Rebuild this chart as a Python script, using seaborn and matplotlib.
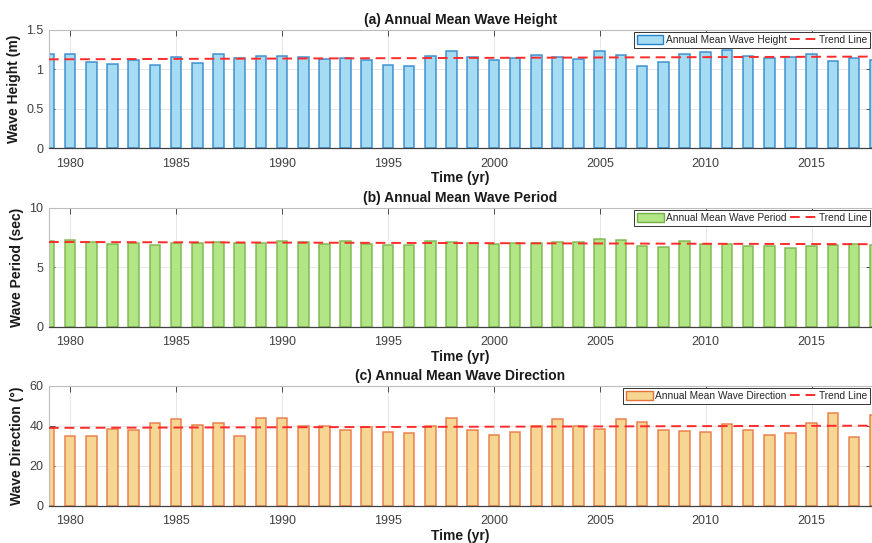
import numpy as np
import pandas as pd
import matplotlib
matplotlib.use("Agg")
import matplotlib.pyplot as plt
import seaborn as sns
from matplotlib.patches import Patch
from matplotlib.lines import Line2D

years = list(range(1979, 2019))

wave_height = [1.195, 1.20, 1.093, 1.068, 1.12, 1.055, 1.157, 1.08, 1.19, 1.14,
               1.174, 1.165, 1.16, 1.135, 1.14, 1.119, 1.059, 1.046, 1.169, 1.237,
               1.157, 1.115, 1.148, 1.178, 1.157, 1.135, 1.233, 1.186, 1.046, 1.089,
               1.19, 1.22, 1.246, 1.165, 1.14, 1.152, 1.199, 1.106, 1.144, 1.119]

wave_period = [7.2, 7.26, 7.14, 6.97, 7.03, 6.87, 7.06, 7.0, 7.12, 7.0,
               7.06, 7.17, 7.09, 6.97, 7.17, 6.97, 6.87, 6.87, 7.17, 7.12,
               7.06, 6.97, 7.0, 7.03, 7.12, 7.14, 7.34, 7.26, 6.78, 6.72,
               7.23, 6.95, 6.95, 6.81, 6.81, 6.64, 6.81, 6.84, 6.92, 6.87]

wave_direction = [38.8, 34.9, 35.1, 38.6, 37.9, 41.6, 43.3, 40.3, 41.3, 34.8,
                  43.8, 44.0, 39.8, 39.8, 37.8, 39.4, 36.9, 36.6, 39.8, 43.8,
                  37.9, 35.6, 36.9, 39.8, 43.3, 39.8, 38.4, 43.5, 42.0, 38.1,
                  37.4, 36.8, 40.8, 38.1, 35.3, 36.4, 41.5, 46.5, 34.6, 45.6]

# trend line end values (at first and last year)
trend_height = [1.127, 1.162]
trend_period = [7.12, 6.93]
trend_direction = [39.0, 40.1]

titles = ["(a) Annual Mean Wave Height", "(b) Annual Mean Wave Period",
          "(c) Annual Mean Wave Direction"]
ylabels = ["Wave Height (m)", "Wave Period (sec)", "Wave Direction (\u00b0)"]
legend_labels = ["Annual Mean Wave Height", "Annual Mean Wave Period",
                 "Annual Mean Wave Direction"]
yticks_list = [[0, 0.5, 1, 1.5], [0, 5, 10], [0, 20, 40, 60]]
ytick_labels = [["0", "0.5", "1", "1.5"], ["0", "5", "10"], ["0", "20", "40", "60"]]
xticks = list(range(1980, 2016, 5))

fills = ["#a6dcf3", "#b2e585", "#f5d692"]
edges = ["#2582c8", "#74b043", "#e8703a"]

sns.set_theme(style="white")
plt.rcParams['font.family'] = ['Liberation Sans', 'DejaVu Sans']

fig = plt.figure(figsize=(8.72, 5.43), dpi=100)
positions = [[0.0562, 0.7274, 0.9438, 0.2174],
             [0.0562, 0.3984, 0.9438, 0.2191],
             [0.0562, 0.0687, 0.9438, 0.2205]]

series = [wave_height, wave_period, wave_direction]
trends = [trend_height, trend_period, trend_direction]
dash = (0, (5, 3))

for i in range(3):
    ax = fig.add_axes(positions[i])
    df = pd.DataFrame({"year": years, "value": series[i]})
    sns.barplot(data=df, x="year", y="value", native_scale=True, width=0.5,
                color=fills[i], edgecolor=edges[i], linewidth=1.1,
                saturation=1, ax=ax, zorder=2)
    for p in ax.patches:
        p.set_edgecolor(matplotlib.colors.to_rgba(edges[i], 0.85))
    ax.plot([years[0], years[-1]], trends[i], color="#ff2a2a", ls=dash,
            lw=1.4, zorder=3)
    ax.set_xlim(1979, 2017.85)
    ax.set_ylim(yticks_list[i][0], yticks_list[i][-1])
    ax.set_xticks(xticks)
    ax.set_xticklabels([str(x) for x in xticks], fontsize=9, color="#404040")
    ax.set_yticks(yticks_list[i])
    ax.set_yticklabels(ytick_labels[i], fontsize=9, color="#404040")
    ax.grid(True, color="#e3e3e3", lw=0.6, zorder=0)
    ax.set_axisbelow(True)
    ax.tick_params(direction="in", length=4, width=0.6, color="#333333",
                   top=True, right=True, bottom=True, left=True)
    ax.tick_params(axis="x", pad=7)
    ax.tick_params(axis="y", pad=4)
    for s in ["top", "left", "right"]:
        ax.spines[s].set_color("#bdbdbd")
        ax.spines[s].set_linewidth(0.8)
    ax.spines["bottom"].set_color("#404040")
    ax.spines["bottom"].set_linewidth(0.9)
    ax.set_title(titles[i], fontsize=10, fontweight="bold", color="#1a1a1a", pad=4)
    ax.set_xlabel("Time (yr)", fontsize=10, fontweight="bold", color="#1a1a1a",
                  labelpad=1)
    ax.set_ylabel(ylabels[i], fontsize=10, fontweight="bold", color="#1a1a1a",
                  labelpad=4)
    handles = [Patch(facecolor=fills[i], edgecolor=edges[i], lw=1.0),
               Line2D([0], [0], color="#ff2a2a", ls=dash, lw=1.4)]
    leg = ax.legend(handles, [legend_labels[i], "Trend Line"], loc="upper right",
                    ncol=2, fontsize=7.3, frameon=True, fancybox=False,
                    borderpad=0.3, handlelength=2.6, handletextpad=0.25,
                    columnspacing=0.3, borderaxespad=0.2, handleheight=1.0)
    for t in leg.get_texts():
        t.set_color("#262626")
    leg.get_frame().set_edgecolor("#333333")
    leg.get_frame().set_linewidth(0.7)
    leg.get_frame().set_alpha(1)

fig.savefig("out.png", dpi=100)
